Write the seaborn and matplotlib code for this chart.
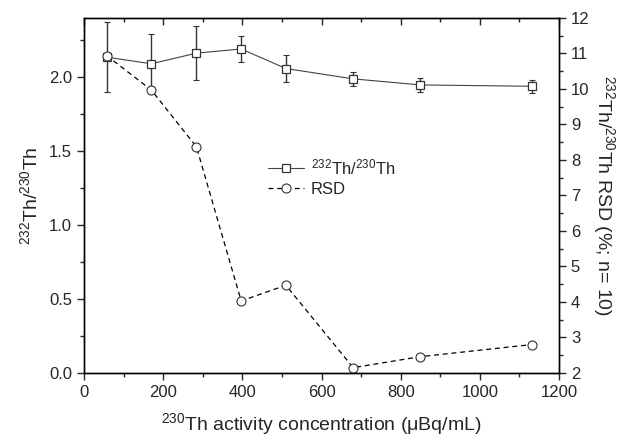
import matplotlib
matplotlib.use('Agg')
import matplotlib.pyplot as plt
import seaborn as sns
import numpy as np
import pandas as pd
from matplotlib.ticker import MultipleLocator

# data
conc = [57, 170, 284, 397, 510, 680, 850, 1131]
ratio = [2.135, 2.09, 2.162, 2.19, 2.058, 1.988, 1.947, 1.938]
ratio_err = [0.235, 0.20, 0.18, 0.09, 0.09, 0.045, 0.045, 0.045]
rsd = [10.94, 9.97, 8.37, 4.03, 4.47, 2.15, 2.46, 2.80]

df = pd.DataFrame({'conc': conc, 'ratio': ratio, 'err': ratio_err, 'rsd': rsd})

sns.set_style('ticks')
plt.rcParams['font.family'] = ['Liberation Sans', 'DejaVu Sans']
plt.rcParams['mathtext.fontset'] = 'custom'
plt.rcParams['mathtext.rm'] = 'Liberation Sans'
plt.rcParams['mathtext.it'] = 'Liberation Sans:italic'

fig = plt.figure(figsize=(6.21, 4.37), dpi=100)
ax = fig.add_axes([0.1353, 0.1465, 0.7649, 0.8125])
ax2 = ax.twinx()

# ratio with error bars
ax.errorbar(df['conc'], df['ratio'], yerr=df['err'], fmt='none',
            ecolor='#333333', elinewidth=1.0, capsize=2, capthick=0.8, zorder=2)
sns.lineplot(data=df, x='conc', y='ratio', ax=ax, color='#444444', lw=0.8,
             marker='s', markersize=6, markerfacecolor='white',
             markeredgecolor='#333333', markeredgewidth=0.9,
             label=r'$^{232}$Th/$^{230}$Th', legend=False, zorder=3)

# RSD on right axis
sns.lineplot(data=df, x='conc', y='rsd', ax=ax2, color='black', lw=0.9,
             linestyle=(0, (4, 3)), marker='o', markersize=6.5,
             markerfacecolor='white', markeredgecolor='#333333',
             markeredgewidth=0.8, label='RSD', legend=False)

ax.set_xlim(0, 1200)
ax.set_ylim(0, 2.4)
ax2.set_ylim(2, 12)

ax.xaxis.set_major_locator(MultipleLocator(200))
ax.xaxis.set_minor_locator(MultipleLocator(100))
ax.yaxis.set_major_locator(MultipleLocator(0.5))
ax.yaxis.set_minor_locator(MultipleLocator(0.25))
ax2.yaxis.set_major_locator(MultipleLocator(1))
ax2.yaxis.set_minor_locator(MultipleLocator(0.5))
ax.yaxis.set_major_formatter(matplotlib.ticker.FormatStrFormatter('%.1f'))

for a in (ax, ax2):
    for s in a.spines.values():
        s.set_visible(True)
        s.set_linewidth(1.0)
        s.set_color('black')

ax.tick_params(axis='both', which='major', direction='out', length=5, width=1, labelsize=12)
ax.tick_params(axis='both', which='minor', direction='out', length=3, width=1)
ax.tick_params(axis='x', which='both', top=True)
ax2.tick_params(axis='y', which='major', direction='out', length=5, width=1, labelsize=12)
ax2.tick_params(axis='y', which='minor', direction='out', length=3, width=1)
# top ticks point inward
for t in ax.xaxis.get_major_ticks() + ax.xaxis.get_minor_ticks():
    t.tick2line.set_marker(matplotlib.lines.TICKDOWN)

ax.set_xlabel(r'$^{230}$Th activity concentration (μBq/mL)', fontsize=14, labelpad=8)
ax.set_ylabel(r'$^{232}$Th/$^{230}$Th', fontsize=14, labelpad=6)
ax2.set_ylabel(r'$^{232}$Th/$^{230}$Th RSD (%; n= 10)', fontsize=14,
               rotation=270, labelpad=20)

h1, l1 = ax.get_legend_handles_labels()
h2, l2 = ax2.get_legend_handles_labels()
ax2.legend(h1 + h2, l1 + l2, loc='upper left', bbox_to_anchor=(0.355, 0.65),
           frameon=False, fontsize=12, handlelength=2.2, handletextpad=0.4,
           labelspacing=0.3)

fig.savefig('out.png', dpi=100)
